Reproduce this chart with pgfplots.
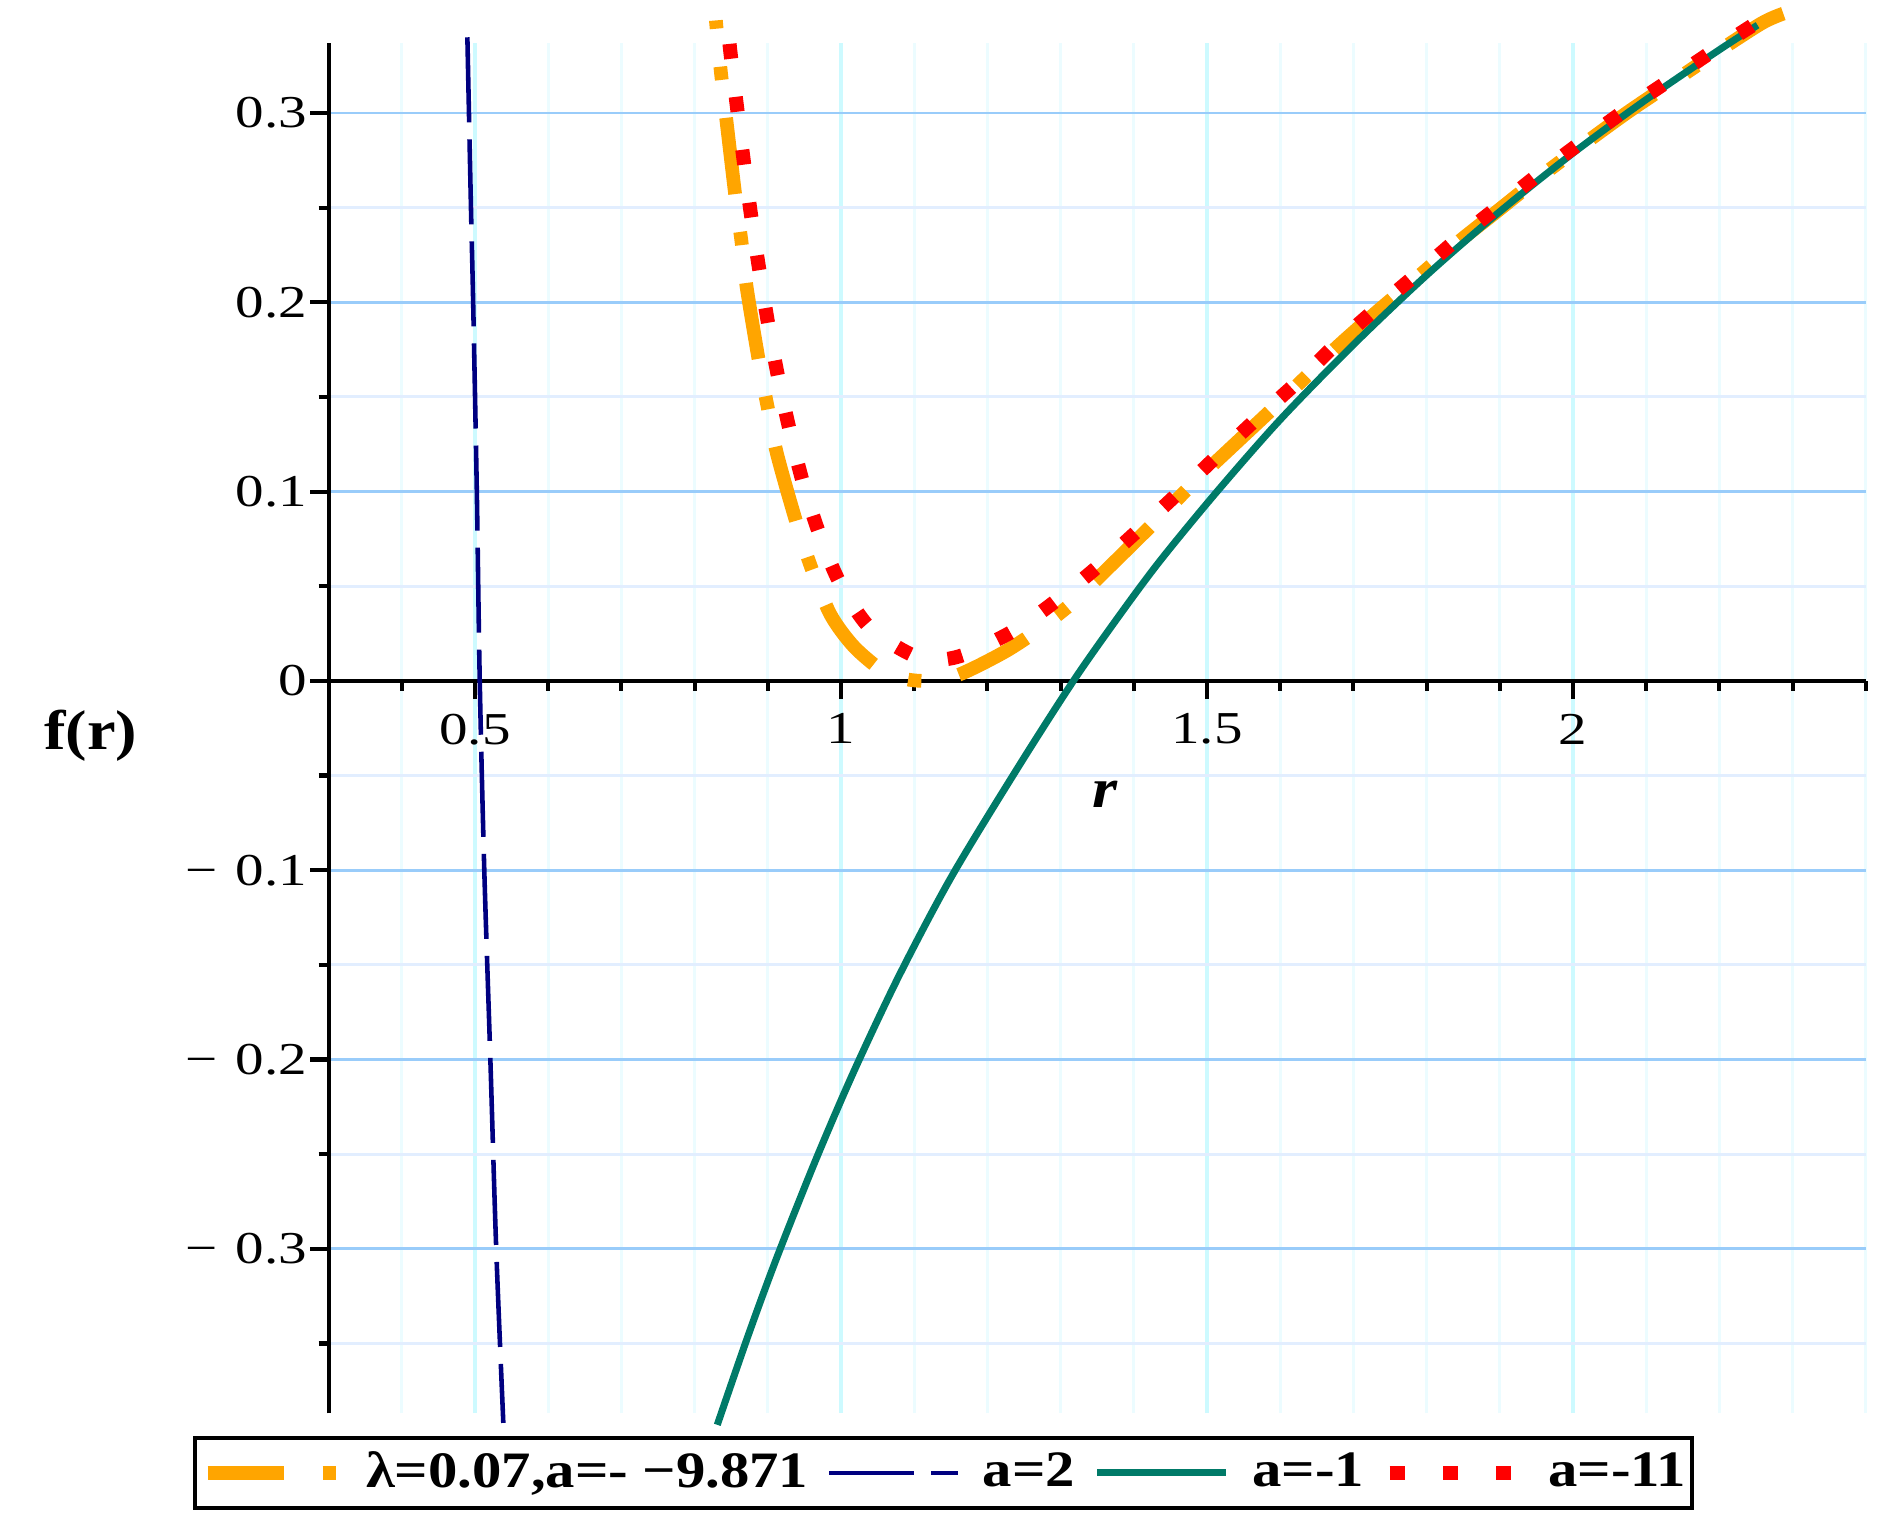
\documentclass[border=0pt]{standalone}
\usepackage{pgfplots}
\pgfplotsset{compat=1.18}
\usepackage{fontspec}
\setmainfont{Liberation Serif}[FakeStretch=1.15]
\newfontfamily\tickfont{Liberation Serif}[FakeStretch=1.25]
\newfontfamily\legfont{Liberation Serif}[FakeStretch=1.15]
\definecolor{mporange}{RGB}{255,165,0}
\definecolor{mpnavy}{RGB}{0,0,128}
\definecolor{mpteal}{RGB}{0,122,104}
\definecolor{mpred}{RGB}{255,0,0}
\definecolor{gridblue}{RGB}{153,204,250}
\definecolor{gridbluel}{RGB}{226,238,255}
\definecolor{gridcyan}{RGB}{205,250,255}
\definecolor{gridcyanl}{RGB}{236,252,255}
\begin{document}
\begin{tikzpicture}
\begin{axis}[
  x=176.39pt, y=456.14pt,
  xmin=0.3, xmax=2.4, ymin=-0.387, ymax=0.337,
  axis x line*=middle, axis y line*=left,
  axis line style={-, line width=1pt, black},
  hide obscured x ticks=false, hide obscured y ticks=false,
  xtick={0.5,1,1.5,2}, xticklabels={0.5,1,1.5,2},
  minor xtick={0.3,0.4,0.6,0.7,0.8,0.9,1.1,1.2,1.3,1.4,1.6,1.7,1.8,1.9,2.1,2.2,2.3,2.4},
  ytick={-0.3,-0.2,-0.1,0,0.1,0.2,0.3},
  yticklabels={{−\hspace{4.3pt}0.3},{−\hspace{4.3pt}0.2},{−\hspace{4.3pt}0.1},0,0.1,0.2,0.3},
  minor ytick={-0.35,-0.25,-0.15,-0.05,0.05,0.15,0.25},
  tick align=outside,
  major tick length=4.4pt, minor tick length=2.4pt,
  tick style={black, line width=1pt},
  tick label style={font=\tickfont\fontsize{11}{13}\selectfont},
  yticklabel style={xshift=2.7pt},
  /pgf/number format/assume math mode=true,
  grid=both,
  major x grid style={gridcyan, line width=1pt},
  minor x grid style={gridcyanl, line width=0.7pt},
  major y grid style={gridblue, line width=0.7pt},
  minor y grid style={gridbluel, line width=0.7pt},
  clip=false,
  legend image code/.code={\draw[#1, line cap=butt, dash phase=0pt] (0pt,0pt) -- (31pt,0pt);},
  legend style={at={(axis cs:1.140,-0.4184)}, anchor=center, draw=black, line width=1pt,
    legend columns=-1, font=\legfont\bfseries\fontsize{12.3}{14}\selectfont,
    inner xsep=1.5pt, inner ysep=3.3pt, nodes={inner xsep=0pt, inner ysep=0pt},
    /tikz/every odd column/.append style={column sep=5.5pt},
    /tikz/every even column/.append style={column sep=4.5pt}},
]
\addplot[mporange, line width=3.3pt, line cap=butt, dash pattern=on 18.5pt off 9.2pt on 3.2pt off 9.2pt, dash phase=16.5pt, smooth] coordinates {
(0.8291,0.3489)(0.8361,0.3210)(0.8556,0.2564)(0.864,0.2323)(0.871,0.2083)(0.8884,0.1677)(0.9003,0.1437)(0.9128,0.1196)(0.9407,0.0816)(0.9616,0.0575)(0.9861,0.0347)(1.0174,0.0182)(1.0558,0.0056)(1.085,0.0012)(1.115,0.0)(1.15,0.0018)(1.1813,0.0068)(1.2266,0.016)(1.265,0.0258)(1.3138,0.0405)(1.3661,0.060)(1.4358,0.0866)(1.4812,0.1044)(1.5265,0.1209)(1.6032,0.1487)(1.676,0.1758)(1.730,0.1943)(1.7866,0.2129)(1.8427,0.2316)(1.900,0.2492)(1.9573,0.2669)(2.016,0.2839)(2.0751,0.3005)(2.1362,0.3164)(2.1972,0.3323)(2.2582,0.3475)(2.2873,0.3525)
};
\addlegendentry{λ=0.07,a=- −9.871}
\addplot[mpnavy, line width=1.1pt, line cap=butt, dash pattern=on 20.5pt off 4.1pt, smooth] coordinates {
(0.4896,0.340)(0.4945,0.25)(0.4975,0.2)(0.5025,0.1)(0.5065,0)(0.5127,-0.1)(0.521,-0.2)(0.529,-0.3)(0.5387,-0.392)
};
\addlegendentry{a=2}
\addplot[mpteal, line width=1.7pt, smooth] coordinates {
(0.831,-0.393)(0.873,-0.346)(0.912,-0.305)(0.9645,-0.254)(1.017,-0.2068)(1.079,-0.156)(1.151,-0.1034)(1.242,-0.0456)(1.3175,0)(1.38,0.0344)(1.436,0.0635)(1.513,0.0997)(1.6,0.138)(1.7,0.1776)(1.8,0.2143)(1.9,0.2479)(2.0,0.2788)(2.1,0.3071)(2.2,0.3334)(2.2521,0.3464)
};
\addlegendentry{a=-1}
\addplot[mpred, line width=3.4pt, line cap=butt, dash pattern=on 3.6pt off 9.25pt, smooth] coordinates {
(0.8477,0.3365)(0.850,0.3286)(0.8587,0.3007)(0.8679,0.2724)(0.8778,0.2442)(0.8887,0.2164)(0.9008,0.188)(0.9144,0.160)(0.930,0.1323)(0.9483,0.1044)(0.9703,0.0778)(0.9985,0.0517)(1.0397,0.0279)(1.0997,0.0132)(1.135,0.0112)(1.1722,0.0144)(1.2378,0.0269)(1.2964,0.0431)(1.3536,0.0613)(1.408,0.0803)(1.4623,0.0998)(1.5146,0.1191)(1.5683,0.1386)(1.6227,0.1576)(1.6764,0.1779)(1.730,0.1963)(1.7866,0.2149)(1.8427,0.2336)(1.900,0.2512)(1.9573,0.2689)(2.016,0.2859)(2.0751,0.3025)(2.1362,0.3184)(2.1972,0.3343)(2.2582,0.3495)(2.275,0.354)
};
\addlegendentry{a=-11}
\node[anchor=base, inner sep=0pt, font=\bfseries\itshape\fontsize{13.5}{16}\selectfont] at (axis cs:1.3613,-0.0671) {r};
\node[anchor=base west, inner sep=0pt, font=\bfseries\fontsize{13.5}{16}\selectfont] at (axis cs:-0.0897,-0.0361) {f(r)};
\path (axis cs:-0.1489,0.3597) rectangle (axis cs:2.4317,-0.4511);
\end{axis}
\end{tikzpicture}
\end{document}
